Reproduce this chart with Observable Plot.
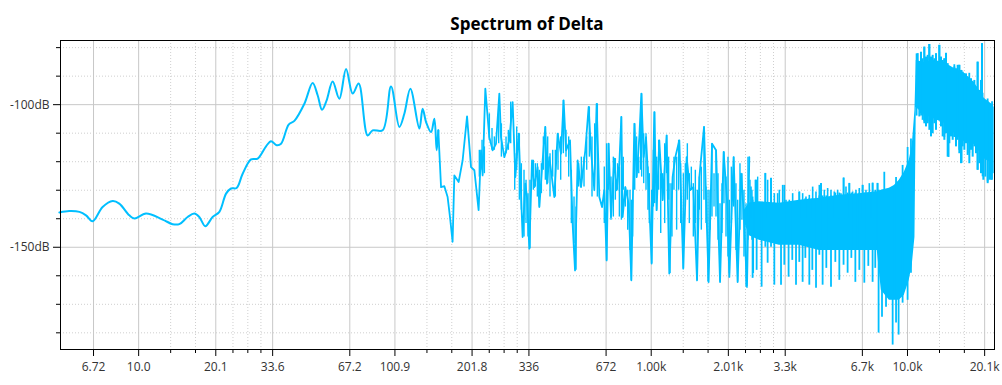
<!DOCTYPE html>
<html><head><meta charset="utf-8">
<script src="https://cdn.jsdelivr.net/npm/d3@7"></script>
<script src="https://cdn.jsdelivr.net/npm/@observablehq/plot@0.6"></script>
<style>
html,body{margin:0;padding:0;background:#fff;}
#title{box-sizing:border-box;height:38px;width:1002px;padding:15px 8px 0 60px;text-align:center;font:bold 17px/17px "Open Sans",sans-serif;color:#000;}
#chart svg{display:block;}
</style></head>
<body>
<div id="title">Spectrum of Delta</div>
<div id="chart"></div>
<script>
// x tick values (Hz) and labels
const xMajorTicks = [6.727, 10.09, 20.18, 33.635, 67.27, 100.9, 201.8, 336.35, 672.7, 1009, 2018, 3363.5, 6727, 10090, 20181];
const xMajorLabels = ["6.72","10.0","20.1","33.6","67.2","100.9","201.8","336","672","1.00k","2.01k","3.3k","6.7k","10.0k","20.1k"];
const xMinorTicks = [13.454,16.818,23.545,26.908,30.272,134.54,168.18,235.45,269.08,302.72,1345.4,1681.8,2354.5,2690.8,3027.2,13454,16818];
const yMajorTicks = [-150, -100];
const yMajorLabels = ["-150dB", "-100dB"];
const yMinorTicks = [-180,-170,-160,-140,-130,-120,-110,-90,-80];

// spectrum line (Hz, dB)
const lineFreq = [
 4.95,5.41,5.93,6.29,6.67,7.30,7.99,8.48,9.28,9.71,
 10.78,12.52,13.69,14.54,15.67,16.64,17.40,18.37,19.61,20.84,
 22.13,23.14,24.33,25.69,27.70,29.39,31.70,33.15,34.85,36.27,
 38.84,40.88,44.72,48.17,50.39,52.42,54.63,57.65,61.23,65.04,
 69.02,72.84,78.97,82.59,90.34,97.43,105.0,109.8,115.9,125.7,
 129.4,133.5,139.6,143.8,146.8,149.0,152.7,157.3,162.0,165.5,
 169.4,172.1,178.9,185.4,192.9,199.9,206.0,214.0,218.7,221.9,
 227.3,235.6,242.7,250.2,257.8,261.7,269.6,282.0,290.5,297.7,
 306.6,313.3,317.8,325.6,330.6,337.5,345.8,353.0,363.6,369.3,
 380.4,389.7,395.7,404.0,422.6,435.3,448.7,459.3,469.4,486.5,
 498.0,508.9,521.0,537.0,558.2,575.1,587.5,605.2,617.9,633.1,
 648.6,662.1,676.0,688.2,703.2,724.4,739.6,757.7,771.5,780.6,
 799.7,823.8,844.1,867.0,885.2,906.9,923.4,942.7,963.0,985.8,
 1013,1037,1059,1085,1118,1159,1187,1223,1253,1299,
 1346,1387,1430,1473,1523,1555,1622,1651,1690,1743,
 1807,1873,1934,1994,2036,2116,2193,2261,2314,2386,2436];
const lineDb = [
 -137.8,-137.3,-137.6,-138.8,-140.9,-135.9,-133.8,-134.7,-138.8,-139.9,
 -138.2,-140.3,-141.9,-141.9,-139.4,-138.2,-139.4,-142.6,-139.4,-137.6,
 -131.2,-129.4,-129.2,-124.2,-119.2,-118.9,-114.6,-112.8,-114.2,-113.7,
 -107.0,-105.7,-99.7,-92.4,-96.7,-101.8,-98.5,-91.9,-97.9,-87.5,
 -96.1,-92.6,-110.8,-109.0,-109.0,-93.6,-107.8,-103.2,-94.4,-108.4,
 -101.4,-106.1,-109.6,-104.9,-116.0,-109.0,-128.9,-128.6,-132.4,-139.4,
 -148.1,-124.8,-127.1,-119.5,-104.1,-121.9,-123.0,-137.0,-116.0,-124.8,
 -94.4,-111.4,-116.0,-113.7,-96.1,-111.4,-118.4,-112.5,-99.1,-125.4,
 -110.2,-131.2,-146.4,-127.7,-132.4,-150.5,-119.5,-128.9,-121.9,-135.9,
 -119.5,-107.8,-127.7,-118.4,-132.4,-110.2,-117.2,-98.5,-116.0,-112.5,
 -141.7,-158.1,-119.5,-128.9,-116.0,-100.8,-116.0,-130.0,-99.7,-132.4,
 -135.9,-130.0,-154.6,-113.7,-139.4,-118.9,-130.0,-120.7,-104.3,-139.4,
 -128.9,-134.7,-161.6,-106.7,-125.4,-111.4,-96.1,-118.4,-111.4,-128.9,
 -155.7,-102.6,-137.0,-112.5,-133.5,-110.8,-159.2,-125.4,-118.4,-112.5,
 -157.5,-118.4,-130.0,-128.9,-161.6,-125.4,-107.8,-132.4,-162.2,-113.7,
 -116.0,-162.2,-116.6,-133.5,-160.4,-118.4,-162.2,-124.2,-137.0,-163.9,-118.4];

// mid-frequency dense strokes (Hz, low dB, high dB)
const midFreq = [
 215.4,220.7,225.4,235.7,241.4,246.5,256.3,262.6,273.8,279.6,
 285.5,296.0,301.3,308.6,314.2,321.8,327.7,333.6,339.6,350.0,
 356.3,362.8,369.4,376.1,382.9,389.8,398.1,406.5,416.3,426.4,
 436.8,447.4,458.2,469.3,480.7,492.3,504.3,513.5,525.9,538.6,
 551.7,565.1,578.8,592.8,607.2,621.9,
 662,676,688,703,718,731,746,758,772,785,
 800,817,834,844,854,870,885,902,918,926,
 943,963,980,992,1013,1029,1041,1060,1079,1099,
 1118,1139,1159,1180,1195,1216,1238,1268,1291,1315,
 1347,1371,1396,1421,1447,1473,1500,1527,1555,1583,
 1621,1651,1681,1711,1742,1774,1806,1839,1872,1906,
 1940,1976,2011,2036,2073,2116,2161,2194,2240,2281,
 2322,2365,2407,2451,2495,2526,2571,2626];
const midLow = [
 -125.4,-123.0,-124.2,-112.5,-116.0,-116.0,-113.7,-118.4,-117.2,-116.0,
 -113.7,-130.0,-123.0,-133.5,-137.0,-146.4,-141.7,-146.4,-150.5,-130.0,
 -128.9,-132.4,-135.9,-131.2,-123.0,-126.5,-127.7,-132.4,-125.4,-132.4,
 -123.0,-126.5,-117.2,-118.4,-125.4,-141.7,-148.7,-158.1,-128.9,-127.7,
 -128.9,-123.0,-118.4,-132.4,-123.0,-132.4,
 -141.7,-154.6,-130.0,-140.5,-139.4,-133.5,-130.0,-139.4,-140.5,-130.0,
 -135.9,-144.0,-151.1,-161.6,-146.4,-130.0,-125.4,-124.2,-123.0,-125.4,
 -127.7,-130.0,-137.0,-141.7,-155.7,-135.9,-134.7,-137.0,-130.0,-145.2,
 -133.5,-141.7,-124.2,-133.5,-159.2,-146.4,-130.0,-144.0,-130.0,-141.7,
 -157.5,-135.9,-133.5,-141.7,-130.0,-146.4,-141.7,-161.6,-137.0,-144.0,
 -133.5,-141.7,-162.2,-144.0,-139.4,-135.9,-139.4,-147.5,-162.2,-145.2,
 -134.7,-146.4,-153.4,-159.2,-141.7,-135.9,-151.1,-162.2,-144.0,-140.5,
 -153.4,-163.9,-147.5,-144.0,-147.5,-159.2,-141.7,-139.4];
const midHigh = [
 -116.0,-112.5,-114.8,-103.2,-108.4,-111.3,-102.0,-106.7,-111.3,-109.0,
 -99.1,-117.2,-107.8,-110.2,-120.7,-123.0,-126.5,-131.2,-126.5,-119.5,
 -120.7,-120.7,-123.0,-120.7,-111.3,-107.8,-111.3,-117.2,-116.0,-116.0,
 -110.2,-111.3,-98.5,-109.0,-111.3,-123.0,-132.4,-135.9,-120.7,-118.4,
 -118.4,-111.3,-100.8,-111.3,-106.7,-99.7,
 -121.9,-113.7,-113.7,-125.4,-118.4,-118.9,-120.7,-121.9,-104.3,-118.4,
 -128.9,-130.0,-130.0,-133.5,-133.5,-106.7,-111.3,-118.4,-99.7,-96.2,
 -110.2,-110.2,-121.9,-124.2,-130.0,-116.0,-102.6,-118.4,-112.5,-124.2,
 -124.2,-113.7,-110.8,-118.4,-127.7,-127.7,-118.4,-118.4,-112.5,-120.7,
 -124.2,-120.7,-113.7,-124.2,-121.9,-127.7,-123.0,-130.0,-125.4,-121.9,
 -107.8,-128.9,-130.0,-130.0,-113.7,-124.2,-116.0,-124.2,-134.7,-127.7,
 -116.6,-125.4,-118.4,-133.5,-121.9,-118.4,-127.7,-133.5,-120.7,-124.2,
 -130.0,-134.7,-118.4,-126.5,-130.0,-134.7,-126.5,-125.4];

// dense high-frequency body (Hz, upper dB, lower dB)
const bandFreq = [2329,2436,2666,3190,3817,4570,5469,6547,7691,7975,8572,8966,9376,9806,10250,10530,10790,10920,11730,12840,14050,15370,16810,18390,20120,21820];
const bandTop = [-137.0,-134.5,-134.0,-134.6,-133.5,-132.8,-131.8,-131.2,-130.5,-130.0,-129.3,-128.3,-126.5,-123.7,-119.5,-114.3,-102.0,-84.5,-85.2,-84.5,-85.2,-87.3,-89.0,-92.2,-97.8,-100.2];
const bandBottom = [-141.0,-146.0,-147.5,-149.3,-149.3,-151.1,-151.1,-151.1,-151.1,-165.1,-168.6,-168.6,-168.6,-166.8,-161.6,-156.3,-146.5,-101.0,-103.5,-105.0,-106.5,-110.0,-113.0,-114.0,-119.0,-121.0];

// ragged upper tips of the 2-8 kHz body (Hz, tip dB, body dB)
const tipFreq = [2473,2510,2586,2665,2746,2813,2872,2960,3050,3142,
 3190,3287,3387,3490,3596,3705,3818,3934,4053,4177,
 4304,4434,4569,4638,4779,4924,5074,5228,5387,5551,
 5686,5806,5983,6164,6352,6545,6743,6948,7160,7378,7716];
const tipDb = [-128.9,-132.4,-126.5,-134.7,-135.9,-124.2,-126.5,-125.9,-131.2,-131.2,
 -130.0,-128.3,-133.5,-133.5,-131.2,-135.9,-130.6,-131.2,-132.4,-131.8,
 -128.9,-130.6,-128.3,-127.7,-130.0,-129.4,-130.0,-130.6,-130.0,-131.2,
 -125.7,-128.9,-127.7,-130.6,-130.0,-129.4,-128.3,-130.0,-127.7,-127.5,-127.7];
const tipBase = [-140,-140,-140,-140,-140,-140,-140,-140,-140,-140,
 -140,-140,-140,-140,-140,-140,-140,-140,-140,-140,
 -140,-140,-140,-140,-140,-140,-140,-140,-140,-140,
 -140,-140,-140,-140,-140,-140,-140,-140,-140,-140,-140];

// individual spikes in the dense region (Hz, low dB, high dB)
const spikeFreq = [2509,2602,2721,2813,2872,2961,3050,3239,3336,3467,
 3584,3706,3817,3933,4030,4177,4291,4436,4570,4640,
 4707,4866,5075,5276,5469,5681,5892,5984,6093,6316,
 6547,6743,6846,7096,7375,7552,7704,7783,8025,8192,
 8320,8831,9105,9316,9657,10100,10410,
 10950,11400,11730,11920,12270,12460,13430,14050,14260,14600,
 15370,16070,16410,17580,18940,19700,19810,20730,21570];
const spikeLow = [-160.9,-158.1,-164.0,-150,-155.6,-150,-163.3,-163.3,-156.3,-160.5,
 -154.6,-163.3,-155.3,-162.3,-153.9,-163.3,-158.1,-164.4,-152.8,-150,
 -163.3,-157.4,-164.0,-155.3,-161.6,-156.3,-159.1,-150,-153.9,-162.3,
 -158.1,-150,-162.6,-156.7,-162.3,-157.4,-150,-180.1,-174.5,-165,
 -171.0,-184.3,-176.6,-180.8,-169.6,-168.6,-159.1,
 -104,-104,-106,-106.6,-106,-110.8,-105,-111.5,-107,-118.5,
 -111.5,-116,-120.6,-117.1,-123.0,-118,-125.3,-127.1,-126.5];
const spikeHigh = [-133.5,-126.5,-135,-124.1,-135,-125.8,-135,-135,-128.3,-135,
 -134,-134,-130.7,-134,-133,-133,-133,-133,-132,-127.6,
 -132,-132,-132,-131,-131,-125.8,-131,-127.6,-131,-131,
 -131,-128.3,-131,-131,-127.6,-130,-127.6,-130,-130,-123.7,
 -130,-129,-125.5,-128,-121.3,-115,-112,
 -82.2,-83.9,-79.9,-85,-78.9,-84,-79.2,-84,-82.0,-87,
 -86,-86.2,-88,-89,-85.1,-78.6,-96,-98,-99];

// ragged top/bottom of the >10 kHz block (Hz, upper dB, lower dB)
const hfFreq = [11059,11225,11395,11567,11741,11918,12098,12281,12466,12654,
 12845,13038,13235,13435,13637,13843,14052,14263,14478,14697,
 14919,15144,15372,15604,15839,16079,16321,16567,16817,17071,
 17328,17589,17854,18123,18397,18675,18956,19242,19532,19709,
 19946,20307,20738,21050,21368,21690];
const hfTop = [-82.1,-85.1,-81.6,-83.9,-79.8,-83.3,-82.7,-78.9,-83.3,-82.7,
 -83.9,-82.1,-87.4,-79.2,-83.3,-84.5,-83.9,-82.1,-85.6,-86.8,
 -88.6,-88.0,-86.8,-87.4,-86.2,-86.2,-88.0,-88.6,-89.2,-89.2,
 -90.3,-91.5,-90.9,-92.1,-91.5,-93.8,-85.1,-95.0,-91.5,-78.6,
 -97.9,-98.5,-99.1,-99.7,-100.2,-100.8];
const hfBottom = [-100.8,-104.3,-103.2,-105.5,-106.7,-107.8,-106.7,-109.0,-111.3,-110.2,
 -106.7,-109.0,-105.5,-103.2,-107.8,-111.3,-112.5,-110.2,-118.4,-113.7,
 -111.3,-112.5,-111.3,-114.8,-112.5,-117.2,-120.7,-114.8,-116.0,-113.7,
 -117.8,-120.7,-116.0,-118.4,-114.8,-117.2,-123.0,-120.7,-124.2,-121.9,
 -126.5,-125.4,-127.7,-126.5,-126.5,-124.2];

const COLOR = "#00bfff";
const line = lineFreq.map((f, i) => ({f, db: lineDb[i]}));
const smooth = line.filter(d => d.f <= 149.0);
const dense = line.filter(d => d.f >= 149.0);
const mids = midFreq.map((f, i) => ({f, lo: midLow[i], hi: midHigh[i]}));
const band = bandFreq.map((f, i) => ({f, hi: bandTop[i], lo: bandBottom[i]}));
const tips = tipFreq.map((f, i) => ({f, hi: tipDb[i], lo: tipBase[i]}));
const spikes = spikeFreq.map((f, i) => ({f, lo: spikeLow[i], hi: spikeHigh[i]}));
const hf = hfFreq.map((f, i) => ({f, hi: hfTop[i], lo: hfBottom[i]}));

const chart = Plot.plot({
  width: 1002, height: 347,
  marginLeft: 60, marginRight: 8, marginTop: 2, marginBottom: 36,
  x: {type: "log", domain: [5, 22050], label: null},
  y: {domain: [-185.85, -77.5], label: null},
  style: {fontFamily: '"Open Sans", sans-serif', fontSize: "12px", color: "#000", background: "#fff", overflow: "visible"},
  marks: [
    Plot.gridX(xMinorTicks, {stroke: "#cfcfcf", strokeOpacity: 1, strokeDasharray: "1,2"}),
    Plot.gridY(yMinorTicks, {stroke: "#cfcfcf", strokeOpacity: 1, strokeDasharray: "1,2"}),
    Plot.gridX(xMajorTicks, {stroke: "#c8c8c8", strokeOpacity: 1}),
    Plot.gridY(yMajorTicks, {stroke: "#c8c8c8", strokeOpacity: 1}),
    Plot.areaY(band, {x: "f", y1: "lo", y2: "hi", fill: COLOR}),
    Plot.ruleX(mids, {x: "f", y1: "lo", y2: "hi", stroke: COLOR, strokeWidth: 1.4}),
    Plot.ruleX(tips, {x: "f", y1: "lo", y2: "hi", stroke: COLOR, strokeWidth: 1.6}),
    Plot.ruleX(spikes, {x: "f", y1: "lo", y2: "hi", stroke: COLOR, strokeWidth: 1.8}),
    Plot.ruleX(hf, {x: "f", y1: "lo", y2: "hi", stroke: COLOR, strokeWidth: 2}),
    Plot.line(smooth, {x: "f", y: "db", stroke: COLOR, strokeWidth: 2, curve: "catmull-rom"}),
    Plot.line(dense, {x: "f", y: "db", stroke: COLOR, strokeWidth: 1.8}),
    Plot.frame({stroke: "#000", strokeWidth: 1}),
    Plot.axisX(xMinorTicks, {tickSize: 4, tickFormat: () => "", stroke: "#000"}),
    Plot.axisX(xMajorTicks, {tickSize: 7, tickFormat: () => "", stroke: "#000"}),
    Plot.axisY(yMinorTicks, {tickSize: 4, tickFormat: () => "", stroke: "#000"}),
    Plot.axisY(yMajorTicks, {tickSize: 7, tickFormat: () => "", stroke: "#000"}),
    Plot.text(xMajorTicks, {x: d => d, text: (d, i) => xMajorLabels[i], frameAnchor: "bottom", dy: 21, fill: "#333", fontSize: 12}),
    Plot.text(yMajorTicks, {y: d => d, text: (d, i) => yMajorLabels[i], frameAnchor: "left", dx: -11, textAnchor: "end", fill: "#333", fontSize: 12})
  ]
});
document.getElementById("chart").appendChild(chart);
</script>
</body></html>
